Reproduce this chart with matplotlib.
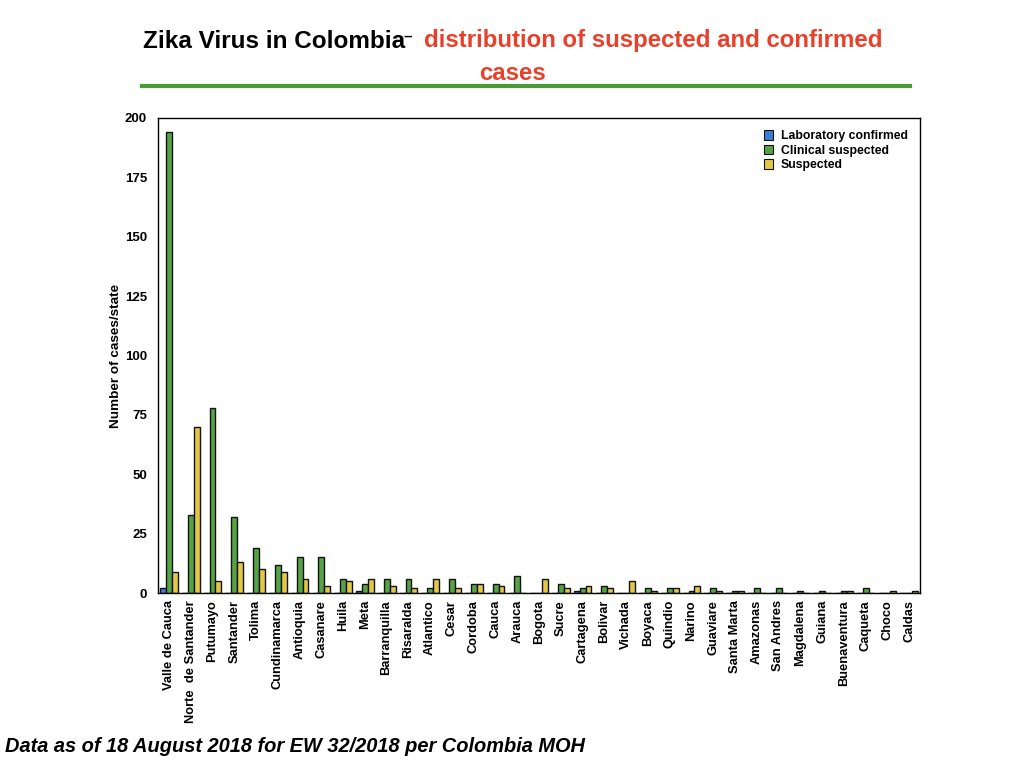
import numpy as np
import matplotlib
matplotlib.use('Agg')
import matplotlib.pyplot as plt
from matplotlib.lines import Line2D
from matplotlib.patches import Patch

plt.rcParams['font.family'] = ['Liberation Sans', 'DejaVu Sans']

# departments / cities
states = ['Valle de Cauca', 'Norte  de Santander', 'Putumayo', 'Santander', 'Tolima',
          'Cundinamarca', 'Antioquia', 'Casanare', 'Huila', 'Meta', 'Barranquilla',
          'Risaralda', 'Atlantico', 'Cesar', 'Cordoba', 'Cauca', 'Arauca', 'Bogota',
          'Sucre', 'Cartagena', 'Bolivar', 'Vichada', 'Boyaca', 'Quindio', 'Narino',
          'Guaviare', 'Santa Marta', 'Amazonas', 'San Andres', 'Magdalena', 'Guiana',
          'Buenaventura', 'Caqueta', 'Choco', 'Caldas']

lab_confirmed = [2, 0, 0, 0, 0, 0, 0, 0, 0, 1, 0, 0, 0, 0, 0, 0, 0, 0,
                 0, 1, 0, 0, 0, 0, 0, 0, 0, 0, 0, 0, 0, 0, 0, 0, 0]
clinical_suspected = [194, 33, 78, 32, 19, 12, 15, 15, 6, 4, 6, 6, 2, 6, 4, 4, 7, 0,
                      4, 2, 3, 0, 2, 2, 1, 2, 1, 2, 2, 1, 1, 1, 2, 0, 0]
suspected = [9, 70, 5, 13, 10, 9, 6, 3, 5, 6, 3, 2, 6, 2, 4, 3, 0, 6,
             2, 3, 2, 5, 1, 2, 3, 1, 1, 0, 0, 0, 0, 1, 0, 1, 1]

series_names = ['Laboratory confirmed', 'Clinical suspected', 'Suspected']
colors = ['#3a7fd5', '#56a343', '#e3c845']

fig = plt.figure(figsize=(10.24, 7.68), dpi=100)
ax = fig.add_axes([158 / 1024, 1 - 593 / 768, (920 - 158) / 1024, (593 - 118) / 768])

x = np.arange(len(states))
w = 0.27
for k, vals in enumerate([lab_confirmed, clinical_suspected, suspected]):
    ax.bar(x - 0.5 + 0.1 + w * k + w / 2, vals, width=w, color=colors[k],
           edgecolor='#111111', linewidth=1.0, label=series_names[k])

ax.set_xlim(-0.5, len(states) - 0.5)
ax.set_ylim(0, 200)
ax.set_yticks(np.arange(0, 201, 25))
ax.set_xticks(x)
ax.set_xticklabels(states, rotation=90, fontsize=9.3, fontweight='bold')
for lab in ax.get_yticklabels():
    lab.set_fontweight('bold')
    lab.set_fontsize(9.5)
ax.tick_params(length=0, pad=5)
ax.tick_params(axis='y', pad=8)
ax.set_ylabel('Number of cases/state', fontsize=9.7, fontweight='bold', labelpad=2)
for s in ax.spines.values():
    s.set_linewidth(1.0)

handles = [Patch(facecolor=c, edgecolor='#111111', linewidth=0.8) for c in colors]
ax.legend(handles, series_names, loc='upper right', frameon=False,
          prop={'weight': 'bold', 'size': 8.8}, handlelength=0.8, handleheight=0.8,
          handletextpad=0.6, labelspacing=0.2, borderaxespad=0.6)

# title pieces
fig.text(143 / 1024, 1 - 42 / 768, 'Zika Virus in Colombia', fontsize=17.5,
         fontweight='bold', color='black', va='center', ha='left')
fig.text(404 / 1024, 1 - 37 / 768, '\u2013', fontsize=11,
         fontweight='bold', color='black', va='center', ha='left')
fig.text(653 / 1024, 1 - 41 / 768, 'distribution of suspected and confirmed', fontsize=17.3,
         fontweight='bold', color='#e8402a', va='center', ha='center')
fig.text(512 / 1024, 1 - 73 / 768, 'cases', fontsize=17.3,
         fontweight='bold', color='#e8402a', va='center', ha='center')
fig.add_artist(Line2D([142 / 1024, 910 / 1024], [1 - 86 / 768, 1 - 86 / 768],
                      color='#4a9a3a', linewidth=3, transform=fig.transFigure))

fig.text(5 / 1024, 1 - 746 / 768, 'Data as of 18 August 2018 for EW 32/2018 per Colombia MOH',
         fontsize=14.4, fontweight='bold', fontstyle='italic', va='center', ha='left')

fig.savefig('out.png', dpi=100)
